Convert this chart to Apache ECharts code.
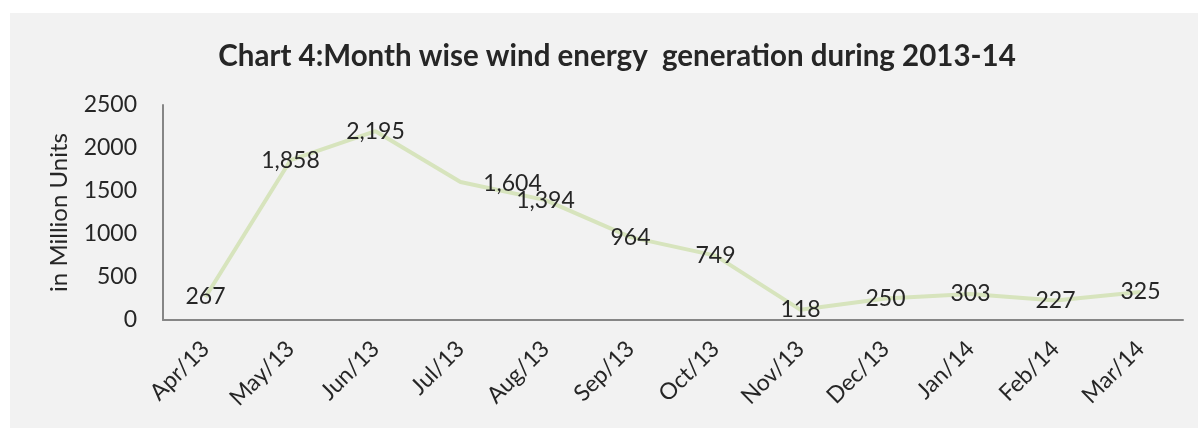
<!DOCTYPE html>
<html>
<head>
<meta charset="utf-8">
<script src="https://cdn.jsdelivr.net/npm/echarts@6/dist/echarts.min.js"></script>
<style>
html,body{margin:0;padding:0;background:#ffffff;}
#chart{width:1198px;height:428px;}
</style>
</head>
<body>
<div id="chart"></div>
<script>
const titleText = 'Chart 4:Month wise wind energy  generation during 2013-14';
const categories = ['Apr/13','May/13','Jun/13','Jul/13','Aug/13','Sep/13','Oct/13','Nov/13','Dec/13','Jan/14','Feb/14','Mar/14'];
const generation = [267, 1858, 2195, 1604, 1394, 964, 749, 118, 250, 303, 227, 325];
const yAxisName = 'in Million Units';
const yTicks = [0, 500, 1000, 1500, 2000, 2500];

const FONT = 'Lato';
const chart = echarts.init(document.getElementById('chart'));
const seriesData = generation.map((v, i) => {
  const item = { value: v };
  if (i === 3) item.label = { offset: [52, 2] };
  return item;
});
chart.setOption({
  backgroundColor: '#ffffff',
  animation: false,
  graphic: [{
    type: 'rect', left: 10, top: 13, z: -10,
    shape: { width: 1188, height: 415 },
    style: { fill: '#f2f2f2' }
  }],
  title: {
    text: titleText, left: 612, textAlign: 'center', top: 36,
    textStyle: { fontFamily: FONT, fontWeight: 'bold', fontSize: 29.5, color: '#262626' }
  },
  grid: { left: 163, right: 15, top: 105, bottom: 108, containLabel: false },
  xAxis: {
    type: 'category', data: categories, boundaryGap: true,
    axisLine: { lineStyle: { color: '#868686', width: 2 } },
    axisTick: { show: false },
    axisLabel: { rotate: 45, margin: 25, fontFamily: FONT, fontSize: 23, color: '#262626', interval: 0 }
  },
  yAxis: {
    type: 'value', min: yTicks[0], max: yTicks[yTicks.length - 1], interval: 500,
    name: yAxisName, nameLocation: 'middle', nameGap: 92, nameRotate: 90,
    nameTextStyle: { fontFamily: FONT, fontSize: 24, color: '#262626' },
    axisLine: { show: true, lineStyle: { color: '#868686', width: 2 } },
    axisTick: { show: false },
    splitLine: { show: false },
    axisLabel: { margin: 26, fontFamily: FONT, fontSize: 23, color: '#262626', formatter: v => String(v) }
  },
  series: [{
    type: 'line', data: seriesData, showSymbol: true, symbol: 'circle', symbolSize: 2,
    showAllSymbol: true,
    itemStyle: { color: 'rgba(0,0,0,0)', borderColor: 'rgba(0,0,0,0)', borderWidth: 0 },
    lineStyle: { color: '#d7e4bd', width: 4 },
    label: {
      show: true, position: 'inside', fontFamily: FONT, fontSize: 23, color: '#262626',
      formatter: p => p.value.toLocaleString('en-US')
    }
  }]
});
</script>
</body>
</html>
